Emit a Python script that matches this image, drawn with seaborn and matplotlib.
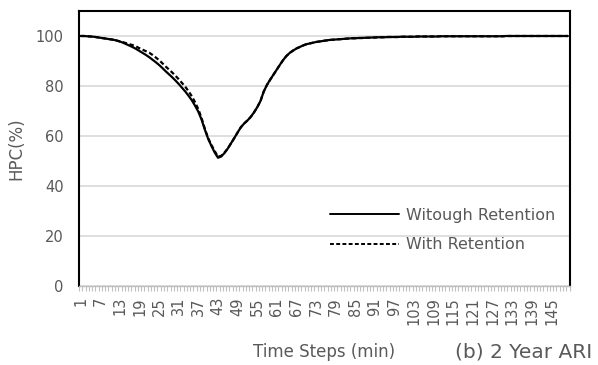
import matplotlib
matplotlib.use("Agg")
import matplotlib.pyplot as plt
import seaborn as sns
import pandas as pd
import numpy as np

time_steps = list(range(1, 151))

without_retention = [
    100.0, 100.0, 99.9, 99.8, 99.7, 99.5, 99.3, 99.1, 98.9, 98.7,
    98.5, 98.2, 97.8, 97.3, 96.7, 96.1, 95.5, 94.8, 94.0, 93.2,
    92.4, 91.5, 90.5, 89.5, 88.4, 87.2, 85.9, 84.7, 83.5, 82.2,
    80.8, 79.3, 77.8, 76.1, 74.3, 72.1, 69.7, 66.5, 62.5, 58.9,
    56.0, 53.4, 51.3, 51.8, 53.2, 55.0, 57.1, 59.2, 61.4, 63.5,
    65.0, 66.2, 67.6, 69.4, 71.5, 74.0, 77.8, 80.5, 82.6, 84.6,
    86.6, 88.6, 90.5, 92.1, 93.3, 94.2, 95.0, 95.6, 96.2, 96.7,
    97.0, 97.3, 97.6, 97.8, 98.0, 98.2, 98.4, 98.5, 98.6, 98.7,
    98.8, 98.9, 99.0, 99.1, 99.1, 99.2, 99.2, 99.3, 99.3, 99.4,
    99.4, 99.5, 99.5, 99.5, 99.6, 99.6, 99.6, 99.6, 99.7, 99.7,
    99.7, 99.7, 99.7, 99.8, 99.8, 99.8, 99.8, 99.8, 99.8, 99.8,
    99.9, 99.9, 99.9, 99.9, 99.9, 99.9, 99.9, 99.9, 99.9, 99.9,
    99.9, 99.9, 99.9, 99.9, 99.9, 99.9, 99.9, 99.9, 99.9, 99.9,
    100.0, 100.0, 100.0, 100.0, 100.0, 100.0, 100.0, 100.0, 100.0, 100.0,
    100.0, 100.0, 100.0, 100.0, 100.0, 100.0, 100.0, 100.0, 100.0, 100.0,
]

with_retention = [
    100.0, 100.0, 99.9, 99.8, 99.7, 99.5, 99.3, 99.1, 98.9, 98.7,
    98.5, 98.2, 97.8, 97.5, 97.1, 96.7, 96.3, 95.8, 95.1, 94.5,
    93.9, 93.3, 92.4, 91.4, 90.3, 89.1, 87.8, 86.6, 85.4, 84.1,
    82.7, 81.2, 79.7, 77.9, 75.9, 73.5, 70.7, 67.1, 62.8, 59.1,
    56.4, 54.0, 51.7, 52.1, 53.4, 55.0, 57.1, 59.2, 61.4, 63.5,
    65.0, 66.2, 67.6, 69.4, 71.5, 74.0, 77.8, 80.5, 82.6, 84.6,
    86.6, 88.6, 90.5, 92.1, 93.3, 94.2, 95.0, 95.6, 96.2, 96.7,
    97.0, 97.3, 97.6, 97.8, 98.0, 98.2, 98.4, 98.5, 98.6, 98.7,
    98.8, 98.9, 99.0, 99.1, 99.1, 99.2, 99.2, 99.3, 99.3, 99.4,
    99.4, 99.5, 99.5, 99.5, 99.6, 99.6, 99.6, 99.6, 99.7, 99.7,
    99.7, 99.7, 99.7, 99.8, 99.8, 99.8, 99.8, 99.8, 99.8, 99.8,
    99.9, 99.9, 99.9, 99.9, 99.9, 99.9, 99.9, 99.9, 99.9, 99.9,
    99.9, 99.9, 99.9, 99.9, 99.9, 99.9, 99.9, 99.9, 99.9, 99.9,
    100.0, 100.0, 100.0, 100.0, 100.0, 100.0, 100.0, 100.0, 100.0, 100.0,
    100.0, 100.0, 100.0, 100.0, 100.0, 100.0, 100.0, 100.0, 100.0, 100.0,
]

series_names = ["Witough Retention", "With Retention"]
y_ticks = [0, 20, 40, 60, 80, 100]
x_tick_labels = [str(t) for t in time_steps[::6]]

sns.set_theme(style="white")
plt.rcParams['font.family'] = ['DejaVu Sans']

df = pd.DataFrame({
    "pos": list(range(len(time_steps))) * 2,
    "HPC": without_retention + with_retention,
    "Series": [series_names[0]] * len(time_steps) + [series_names[1]] * len(time_steps),
})

fig = plt.figure(figsize=(5.98, 3.65), dpi=100)
ax = fig.add_axes([79 / 598, 1 - 286 / 365, (569.5 - 79) / 598, (286 - 11) / 365])

sns.lineplot(data=df, x="pos", y="HPC", style="Series", ax=ax, color="black",
             dashes={series_names[0]: "", series_names[1]: (2.0, 1.2)},
             linewidth=1.6, legend=True)

n = len(time_steps)
ax.set_xlim(-0.5, n - 0.5)
ax.set_ylim(0, 110)
ax.set_yticks(y_ticks)
ax.yaxis.grid(True, color="#d9d9d9", linewidth=1.2)
ax.set_axisbelow(True)

ax.set_xticks(list(range(0, n, 6)))
ax.set_xticklabels(x_tick_labels, rotation=90, fontsize=10.5, color="#595959")
ax.set_xticks(np.arange(-0.5, n, 1.0), minor=True)
ax.tick_params(axis="x", which="major", length=0, pad=8)
ax.tick_params(axis="x", which="minor", length=3.5, color="#bfbfbf", width=0.8, bottom=True)
ax.tick_params(axis="y", labelsize=10.5, labelcolor="#595959", length=0, pad=11)

for side in ["left", "top", "right"]:
    ax.spines[side].set_color("black")
    ax.spines[side].set_linewidth(1.5)
ax.spines["bottom"].set_color("#bfbfbf")
ax.spines["bottom"].set_linewidth(1.0)

ax.set_xlabel("")
ax.set_ylabel("HPC(%)", fontsize=12, color="#595959")
ax.yaxis.set_label_coords((25 - 79) / 490.5, 0.5)

leg = ax.legend(loc="upper left", bbox_to_anchor=(330 / 598, 1 - 208 / 365),
                bbox_transform=fig.transFigure, frameon=False, borderpad=0,
                borderaxespad=0, fontsize=11.5, handlelength=4.3,
                handletextpad=0.45, labelspacing=0.9)
for t in leg.get_texts():
    t.set_color("#595959")
for l in leg.get_lines():
    l.set_linewidth(1.4)

fig.text(324 / 598, 1 - 352 / 365, "Time Steps (min)", ha="center", va="center",
         fontsize=12, color="#595959")
fig.text(524 / 598, 1 - 352 / 365, "(b) 2 Year ARI", ha="center", va="center",
         fontsize=14.5, color="#595959")

fig.savefig("out.png", dpi=100)
